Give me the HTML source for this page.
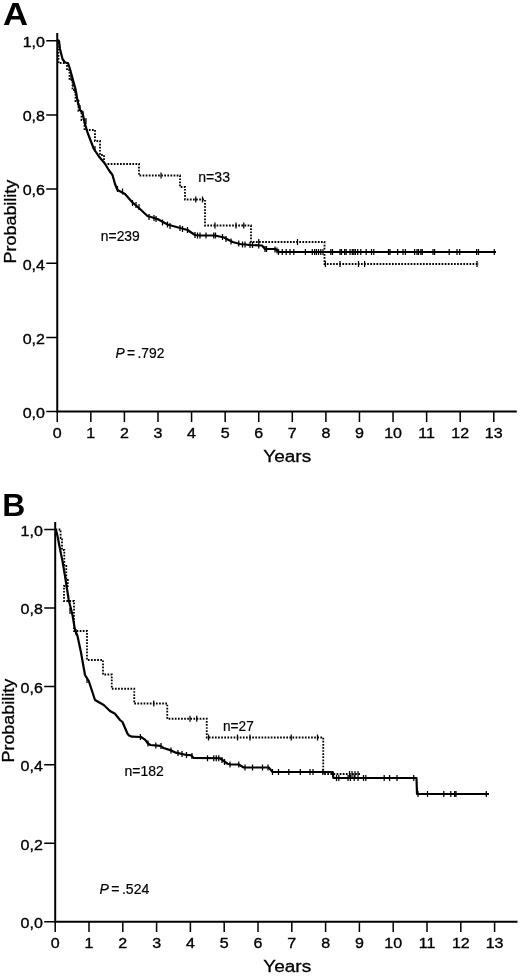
<!DOCTYPE html>
<html lang="en">
<head>
<meta charset="utf-8">
<title>Kaplan-Meier probability curves, panels A and B</title>
<style>
html,body{margin:0;padding:0;background:#fff}
body{width:520px;height:976px;overflow:hidden;font-family:'Liberation Sans',Arial,sans-serif}
svg{display:block}
</style>
</head>
<body>
<svg width="520" height="976" viewBox="0 0 520 976">
<rect width="520" height="976" fill="#fff"/>
<!-- Panel A -->
<g id="panelA">
<text transform="translate(2.9,24.7) scale(1.1,1)" font-family="'Liberation Sans',Arial,sans-serif" font-size="31.5" font-weight="bold">A</text>
<path d="M57.25 33V411.6H516.8" fill="none" stroke="#000" stroke-width="2"/>
<path d="M57.25 411.6v10.3M90.83 411.6v10.3M124.41 411.6v10.3M157.99 411.6v10.3M191.57 411.6v10.3M225.15 411.6v10.3M258.73 411.6v10.3M292.31 411.6v10.3M325.89 411.6v10.3M359.47 411.6v10.3M393.05 411.6v10.3M426.63 411.6v10.3M460.21 411.6v10.3M493.79 411.6v10.3M57.25 411.6h-11M57.25 337.42h-11M57.25 263.24h-11M57.25 189.06h-11M57.25 114.88h-11M57.25 40.7h-11" fill="none" stroke="#000" stroke-width="1.5"/>
<g font-family="'Liberation Sans',Arial,sans-serif" font-size="15.2" fill="#000" stroke="#000" stroke-width="0.35">
<text transform="translate(57.25,437.9) scale(1.055,1)" text-anchor="middle">0</text>
<text transform="translate(90.83,437.9) scale(1.055,1)" text-anchor="middle">1</text>
<text transform="translate(124.41,437.9) scale(1.055,1)" text-anchor="middle">2</text>
<text transform="translate(157.99,437.9) scale(1.055,1)" text-anchor="middle">3</text>
<text transform="translate(191.57,437.9) scale(1.055,1)" text-anchor="middle">4</text>
<text transform="translate(225.15,437.9) scale(1.055,1)" text-anchor="middle">5</text>
<text transform="translate(258.73,437.9) scale(1.055,1)" text-anchor="middle">6</text>
<text transform="translate(292.31,437.9) scale(1.055,1)" text-anchor="middle">7</text>
<text transform="translate(325.89,437.9) scale(1.055,1)" text-anchor="middle">8</text>
<text transform="translate(359.47,437.9) scale(1.055,1)" text-anchor="middle">9</text>
<text transform="translate(393.05,437.9) scale(1.055,1)" text-anchor="middle">10</text>
<text transform="translate(426.63,437.9) scale(1.055,1)" text-anchor="middle">11</text>
<text transform="translate(460.21,437.9) scale(1.055,1)" text-anchor="middle">12</text>
<text transform="translate(493.79,437.9) scale(1.055,1)" text-anchor="middle">13</text>
<text transform="translate(44.95,417.9) scale(1.055,1)" text-anchor="end">0,0</text>
<text transform="translate(44.95,343.72) scale(1.055,1)" text-anchor="end">0,2</text>
<text transform="translate(44.95,269.54) scale(1.055,1)" text-anchor="end">0,4</text>
<text transform="translate(44.95,195.36) scale(1.055,1)" text-anchor="end">0,6</text>
<text transform="translate(44.95,121.18) scale(1.055,1)" text-anchor="end">0,8</text>
<text transform="translate(44.95,47) scale(1.055,1)" text-anchor="end">1,0</text>
</g>
<polyline points="57.5,40.5 58.5,40.5 58.5,63 67,63 67,70 69.5,70 69.5,80 72.5,80 72.5,90 75.5,90 75.5,101 78.5,101 78.5,111 81.5,111 81.5,120 84.5,120 84.5,130 95,130 95,141 100,141 100,155 104,155 104,164 139,164 139,175.5 180,175.5 180,187 185,187 185,199.5 205,199.5 205,225.5 251,225.5 251,242 324.5,242 324.5,264 479,264" fill="none" stroke="#000" stroke-width="1.8" stroke-dasharray="1.7 1.4"/>
<polyline points="57.5,40.5 59,41 60,49 62.5,59 65,62.5 68,63 70,69 73,80 75.5,89 77.5,101 80,110 82.5,113 85,124 87.5,132.5 90,139 93.75,148.75 98.75,156.25 105,163.75 108.75,170 112.5,175 115,184 117.5,190 125,194 132.5,202.5 140,209 147.5,216 157.5,219 167.5,224.5 180,228 187.5,230 195,235 200,235.5 215,235.5 224,237.5 232.5,242 240,244 250,245 262,245.5 265,249 275,249 279,252 496,252" fill="none" stroke="#000" stroke-width="2.2" stroke-linejoin="round"/>
<path d="M71 74V80M73 81V87M75 87V93M76.5 92V98M78 99V105M80 105V111M83 111V117M86 118V124M95 146V152M117.5 186V192M122.5 188.5V194.5M132.5 200V206M136 202V208M139 204V210M149 214V220M154 215V221M156 216V222M162.5 219.5V225.5M167.5 221.5V227.5M170 223V229M180 225V231M182.5 226V232M187.5 227V233M195 232V238M197.5 232.5V238.5M200 232.5V238.5M206 232.5V238.5M213.75 232.5V238.5M215.5 232.5V238.5M222.5 234V240M226 236V242M231 238.5V244.5M238.75 240.5V246.5M242.5 241.5V247.5M245 241.5V247.5M250 242V248M252.5 242V248M258.75 242.5V248.5M265 246V252M266.5 246V252M275 246.5V252.5M277 247.5V253.5M278.5 249V255M282.3 249V255M286.2 249V255M290 249V255M293.8 249V255M305.4 249V255M312.3 249V255M314.6 249V255M316.4 249V255M318.5 249V255M320.8 249V255M323 249V255M330.8 249V255M332.5 249V255M340 249V255M341.5 249V255M344.6 249V255M346.2 249V255M350 249V255M352.3 249V255M353.8 249V255M355.4 249V255M357.7 249V255M360.8 249V255M366.2 249V255M371.5 249V255M373.8 249V255M388.5 249V255M390 249V255M397.7 249V255M403 249V255M405.4 249V255M414.6 249V255M417 249V255M418.5 249V255M420.8 249V255M422.3 249V255M433 249V255M434.6 249V255M449.2 249V255M457 249V255M459.7 249V255M476.6 249V255M478.5 249V255M494.3 249V255M161 172.5V178.5M195.75 196.5V202.5M202.5 196.5V202.5M215 222.5V228.5M236 222.5V228.5M243.75 222.5V228.5M258.75 239V245M297.5 239V245M325.4 261V267M340 261V267M358.5 261V267M364.6 261V267M477 261V267" fill="none" stroke="#000" stroke-width="1.25"/>
<text transform="translate(16.2,263.5) rotate(-90)" font-family="'Liberation Sans',Arial,sans-serif" font-size="16.8" textLength="83.8" lengthAdjust="spacingAndGlyphs" stroke="#000" stroke-width="0.3">Probability</text>
<text x="263.2" y="461.8" font-family="'Liberation Sans',Arial,sans-serif" font-size="17.3" textLength="48" lengthAdjust="spacingAndGlyphs" stroke="#000" stroke-width="0.3">Years</text>
<g font-family="'Liberation Sans',Arial,sans-serif" font-size="14" word-spacing="-1.5" fill="#000" stroke="#000" stroke-width="0.2">
<text x="198.3" y="182.2" textLength="31.7" lengthAdjust="spacingAndGlyphs">n=33</text>
<text x="100.8" y="240.6" textLength="39" lengthAdjust="spacingAndGlyphs">n=239</text>
<text x="115.4" y="358" textLength="49" lengthAdjust="spacingAndGlyphs"><tspan font-style="italic">P</tspan> = .792</text>
</g>
</g>
<!-- Panel B -->
<g id="panelB">
<text transform="translate(2.2,515.9) scale(1.03,1)" font-family="'Liberation Sans',Arial,sans-serif" font-size="31" font-weight="bold">B</text>
<path d="M55.2 522V921.7H517.5" fill="none" stroke="#000" stroke-width="2"/>
<path d="M55.2 921.7v10.3M89 921.7v10.3M122.8 921.7v10.3M156.6 921.7v10.3M190.4 921.7v10.3M224.2 921.7v10.3M258 921.7v10.3M291.8 921.7v10.3M325.6 921.7v10.3M359.4 921.7v10.3M393.2 921.7v10.3M427 921.7v10.3M460.8 921.7v10.3M494.6 921.7v10.3M55.2 921.7h-11M55.2 843.28h-11M55.2 764.86h-11M55.2 686.44h-11M55.2 608.02h-11M55.2 529.6h-11" fill="none" stroke="#000" stroke-width="1.5"/>
<g font-family="'Liberation Sans',Arial,sans-serif" font-size="15.2" fill="#000" stroke="#000" stroke-width="0.35">
<text transform="translate(55.2,948) scale(1.055,1)" text-anchor="middle">0</text>
<text transform="translate(89,948) scale(1.055,1)" text-anchor="middle">1</text>
<text transform="translate(122.8,948) scale(1.055,1)" text-anchor="middle">2</text>
<text transform="translate(156.6,948) scale(1.055,1)" text-anchor="middle">3</text>
<text transform="translate(190.4,948) scale(1.055,1)" text-anchor="middle">4</text>
<text transform="translate(224.2,948) scale(1.055,1)" text-anchor="middle">5</text>
<text transform="translate(258,948) scale(1.055,1)" text-anchor="middle">6</text>
<text transform="translate(291.8,948) scale(1.055,1)" text-anchor="middle">7</text>
<text transform="translate(325.6,948) scale(1.055,1)" text-anchor="middle">8</text>
<text transform="translate(359.4,948) scale(1.055,1)" text-anchor="middle">9</text>
<text transform="translate(393.2,948) scale(1.055,1)" text-anchor="middle">10</text>
<text transform="translate(427,948) scale(1.055,1)" text-anchor="middle">11</text>
<text transform="translate(460.8,948) scale(1.055,1)" text-anchor="middle">12</text>
<text transform="translate(494.6,948) scale(1.055,1)" text-anchor="middle">13</text>
<text transform="translate(42.9,928) scale(1.055,1)" text-anchor="end">0,0</text>
<text transform="translate(42.9,849.58) scale(1.055,1)" text-anchor="end">0,2</text>
<text transform="translate(42.9,771.16) scale(1.055,1)" text-anchor="end">0,4</text>
<text transform="translate(42.9,692.74) scale(1.055,1)" text-anchor="end">0,6</text>
<text transform="translate(42.9,614.32) scale(1.055,1)" text-anchor="end">0,8</text>
<text transform="translate(42.9,535.9) scale(1.055,1)" text-anchor="end">1,0</text>
</g>
<polyline points="55.5,529.5 60.6,529.5 60.6,538 62,538 62,550 64.3,550 64.3,566 66.3,566 66.3,580 67.8,580 67.8,586 64,586 64,601 74,601 74,631 87,631 87,660 103,660 103,674.5 111.75,674.5 111.75,688.75 134.25,688.75 134.25,703.5 167.25,703.5 167.25,718.75 206.75,718.75 206.75,737.5 323.25,737.5 323.25,774 360.3,774" fill="none" stroke="#000" stroke-width="1.8" stroke-dasharray="1.7 1.4"/>
<polyline points="55.5,529.5 56,530 57.5,536 60,549 62.5,561 65,576 68.75,600 72.5,615 75,630 77.5,636 81,652.5 85,675 88.75,681 95,700 103.75,705 110,711 115,713.75 120,720 122.5,722 127.5,733.75 129,735.5 132,736.7 141,737 145,739.6 148,743.5 150.4,745 160.4,745.8 163.5,748 171,750.4 175.8,752.7 186.5,755 191,755.2 193.5,757.8 220,758.25 227.5,763.75 230,764.5 238.75,764.5 243.75,767.5 268.75,767.5 272.5,772 332.8,772 333.3,778 416.5,778 417,794 489,794" fill="none" stroke="#000" stroke-width="2.2" stroke-linejoin="round"/>
<path d="M70 608V614M76 629V635M87 677V683M140.4 734V740M148 740.5V746.5M155.8 742.5V748.5M161 743V749M171 747.5V753.5M178 750V756M182 751V757M186.5 752V758M192 753V759M207.5 755.25V761.25M213.75 755.25V761.25M216.25 755.25V761.25M218.75 755.25V761.25M222 757V763M224.5 759V765M230 761.5V767.5M238.75 761.5V767.5M245 764.5V770.5M252.5 764.5V770.5M262.5 764.5V770.5M268 764.5V770.5M272.5 769V775M278.5 769V775M288.8 769V775M300.3 769V775M310 769V775M313 769V775M322.8 769V775M336.5 775V781M338.8 775V781M348 775V781M350.4 775V781M354.2 775V781M358 775V781M363.5 775V781M365.8 775V781M384.2 775V781M389.6 775V781M397 775V781M413.75 775V781M418 791V797M427.5 791V797M443.8 791V797M450.8 791V797M454.6 791V797M456 791V797M486.3 791V797M153.75 700.5V706.5M190 715.75V721.75M196.75 715.75V721.75M208.5 734.5V740.5M237.5 734.5V740.5M250 734.5V740.5M291.25 734.5V740.5M317.5 734.5V740.5M349.5 771V777M352 771V777M355 771V777M358 771V777" fill="none" stroke="#000" stroke-width="1.25"/>
<text transform="translate(14.3,762.5) rotate(-90)" font-family="'Liberation Sans',Arial,sans-serif" font-size="16.8" textLength="83.6" lengthAdjust="spacingAndGlyphs" stroke="#000" stroke-width="0.3">Probability</text>
<text x="263.2" y="971.8" font-family="'Liberation Sans',Arial,sans-serif" font-size="17.3" textLength="48" lengthAdjust="spacingAndGlyphs" stroke="#000" stroke-width="0.3">Years</text>
<g font-family="'Liberation Sans',Arial,sans-serif" font-size="14" word-spacing="-1.5" fill="#000" stroke="#000" stroke-width="0.2">
<text x="223" y="730.5" textLength="30.8" lengthAdjust="spacingAndGlyphs">n=27</text>
<text x="124.5" y="776.3" textLength="39.2" lengthAdjust="spacingAndGlyphs">n=182</text>
<text x="99.5" y="893.8" textLength="49.9" lengthAdjust="spacingAndGlyphs"><tspan font-style="italic">P</tspan> = .524</text>
</g>
</g>
</svg>
</body>
</html>
